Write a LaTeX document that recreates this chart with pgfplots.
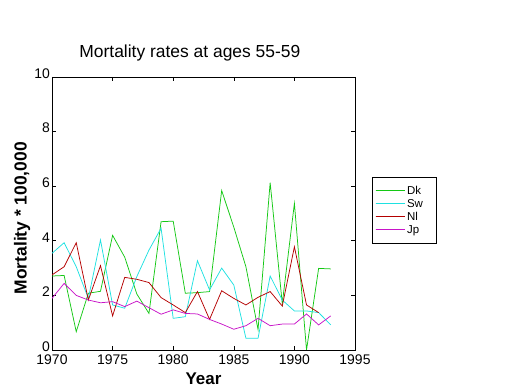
\documentclass[border=0pt]{standalone}
\usepackage{pgfplots}
\pgfplotsset{compat=1.18}
\usepackage{fontspec}
\setmainfont{Liberation Sans}
\definecolor{cdk}{RGB}{20,200,20}
\definecolor{csw}{RGB}{30,225,225}
\definecolor{cnl}{RGB}{180,0,0}
\definecolor{cjp}{RGB}{200,20,200}
\begin{document}
\begin{tikzpicture}
\useasboundingbox (-52bp,-40bp) rectangle (468bp,350bp);
\begin{axis}[
  scale only axis, width=303bp, height=273bp,
  xmin=1970, xmax=1995, ymin=0, ymax=10,
  xtick={1970,1975,...,1995}, ytick={0,2,...,10},
  tick align=inside, major tick length=4bp,
  /pgf/number format/assume math mode=true,
  xticklabel style={/pgf/number format/1000 sep={}, font=\fontsize{14}{16}\selectfont, anchor=north, yshift=-4bp, inner sep=0.5bp},
  yticklabel style={font=\fontsize{14}{16}\selectfont, anchor=east, xshift=-1.5bp, yshift=3.5bp, inner sep=0.5bp},
  axis line style={line width=0.7pt},
  every tick/.style={black, line width=0.6pt},
  title={Mortality rates at ages 55-59},
  title style={at={(axis description cs:0.455,1.051)}, anchor=base, font=\fontsize{17.5}{20}\selectfont},
  xlabel={\bfseries Year}, ylabel={\bfseries Mortality * 100,000},
  xlabel style={at={(axis description cs:0.5,-0.106)}, anchor=center, font=\fontsize{17}{19}\selectfont},
  ylabel style={at={(axis description cs:-0.099,0.483)}, anchor=center, rotate=0, font=\fontsize{17.5}{19}\selectfont},
  legend style={at={(axis description cs:1.056,0.634)}, anchor=north west, draw=black, line width=0.6pt,
    font=\fontsize{11.5}{13}\selectfont, row sep=0pt, inner xsep=3bp, inner ysep=7bp,
    nodes={inner ysep=0pt, text height=10bp, text depth=3bp}},
  legend cell align=left,
  legend image code/.code={\draw[#1, line width=0.8pt] (0bp,0bp) -- (20bp,0bp); \path (0bp,0bp) -- (29bp,0bp);},
  every axis plot/.append style={line width=0.75pt},
]
\addplot[cdk] coordinates {
(1970,2.71)(1971,2.73)(1972,0.67)(1973,2.08)(1974,2.15)(1975,4.2)(1976,3.4)(1977,2.05)(1978,1.34)(1979,4.7)(1980,4.72)(1981,2.08)(1982,2.1)(1983,2.14)(1984,5.84)(1985,4.5)(1986,3.05)(1987,0.75)(1988,6.13)(1989,1.7)(1990,5.37)(1991,0.0)(1992,2.99)(1993,2.97)};
\addlegendentry{\makebox[24bp][l]{Dk}}
\addplot[csw] coordinates {
(1970,3.54)(1971,3.93)(1972,3.05)(1973,1.89)(1974,4.03)(1975,1.65)(1976,1.53)(1977,2.69)(1978,3.66)(1979,4.46)(1980,1.16)(1981,1.22)(1982,3.27)(1983,2.2)(1984,3.0)(1985,2.38)(1986,0.43)(1987,0.43)(1988,2.71)(1989,1.83)(1990,1.43)(1991,1.43)(1992,1.37)(1993,0.92)};
\addlegendentry{Sw}
\addplot[cnl] coordinates {
(1970,2.75)(1971,3.05)(1972,3.93)(1973,1.83)(1974,3.09)(1975,1.25)(1976,2.66)(1977,2.59)(1978,2.47)(1979,1.92)(1980,1.65)(1981,1.37)(1982,2.14)(1983,1.12)(1984,2.17)(1985,1.89)(1986,1.65)(1987,1.93)(1988,2.14)(1989,1.61)(1990,3.78)(1991,1.65)(1992,1.37)};
\addlegendentry{Nl}
\addplot[cjp] coordinates {
(1970,1.89)(1971,2.44)(1972,2.0)(1973,1.83)(1974,1.73)(1975,1.77)(1976,1.59)(1977,1.79)(1978,1.55)(1979,1.31)(1980,1.47)(1981,1.34)(1982,1.32)(1983,1.12)(1984,0.95)(1985,0.76)(1986,0.89)(1987,1.16)(1988,0.89)(1989,0.95)(1990,0.95)(1991,1.32)(1992,0.92)(1993,1.25)};
\addlegendentry{Jp}
\end{axis}
\end{tikzpicture}
\end{document}
